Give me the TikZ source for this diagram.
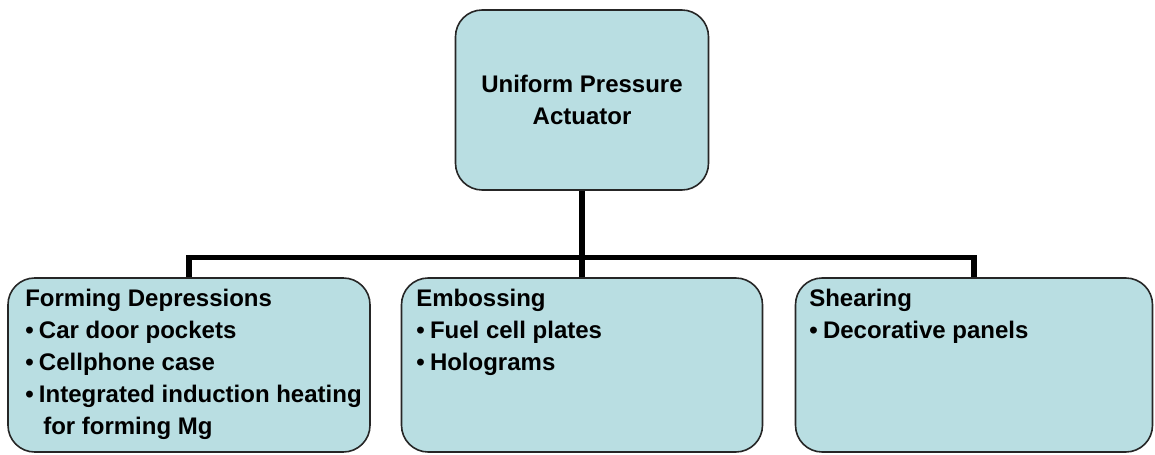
\documentclass[tikz,border=0pt]{standalone}
\usepackage{fontspec}
\setmainfont{Liberation Sans}
\definecolor{cardfill}{HTML}{B9DEE2}
\tikzset{
  card/.style={draw=black!85,line width=1.2pt,fill=cardfill,rounded corners=20pt},
  cardtext/.style={anchor=north west,inner sep=0pt,align=left,font=\bfseries\fontsize{18}{24}\selectfont},
  link/.style={line width=3.8pt}
}
\begin{document}
\begin{tikzpicture}[x=0.75pt,y=0.75pt]
\useasboundingbox (0,0) rectangle (1155,454);
\node[card,minimum width=189.75pt,minimum height=135pt,align=center,font=\bfseries\fontsize{18}{24}\selectfont] (upa) at (582,354) {Uniform Pressure\\Actuator};
\node[card,minimum width=271.5pt,minimum height=130.5pt] (form) at (189,89) {};
\node[card,minimum width=270.75pt,minimum height=130.5pt] (emboss) at (582,89) {};
\node[card,minimum width=267.75pt,minimum height=130.5pt] (shear) at (974,89) {};
\draw[link] (upa.south) -- (emboss.north);
\draw[link] (form.north) -- ++(0,20) -| (shear.north);
\node[cardtext] (formtxt) at (25,165) {Forming Depressions\\
  •\hspace{4pt}Car door pockets\\
  •\hspace{4pt}Cellphone case\\
  •\hspace{4pt}Integrated induction heating\\
  \hspace*{13.5pt}for forming Mg};
\node[cardtext] (embosstxt) at (416,165) {Embossing\\
  •\hspace{4pt}Fuel cell plates\\
  •\hspace{4pt}Holograms};
\node[cardtext] (sheartxt) at (809,165) {Shearing\\
  •\hspace{4pt}Decorative panels};
\end{tikzpicture}
\end{document}
